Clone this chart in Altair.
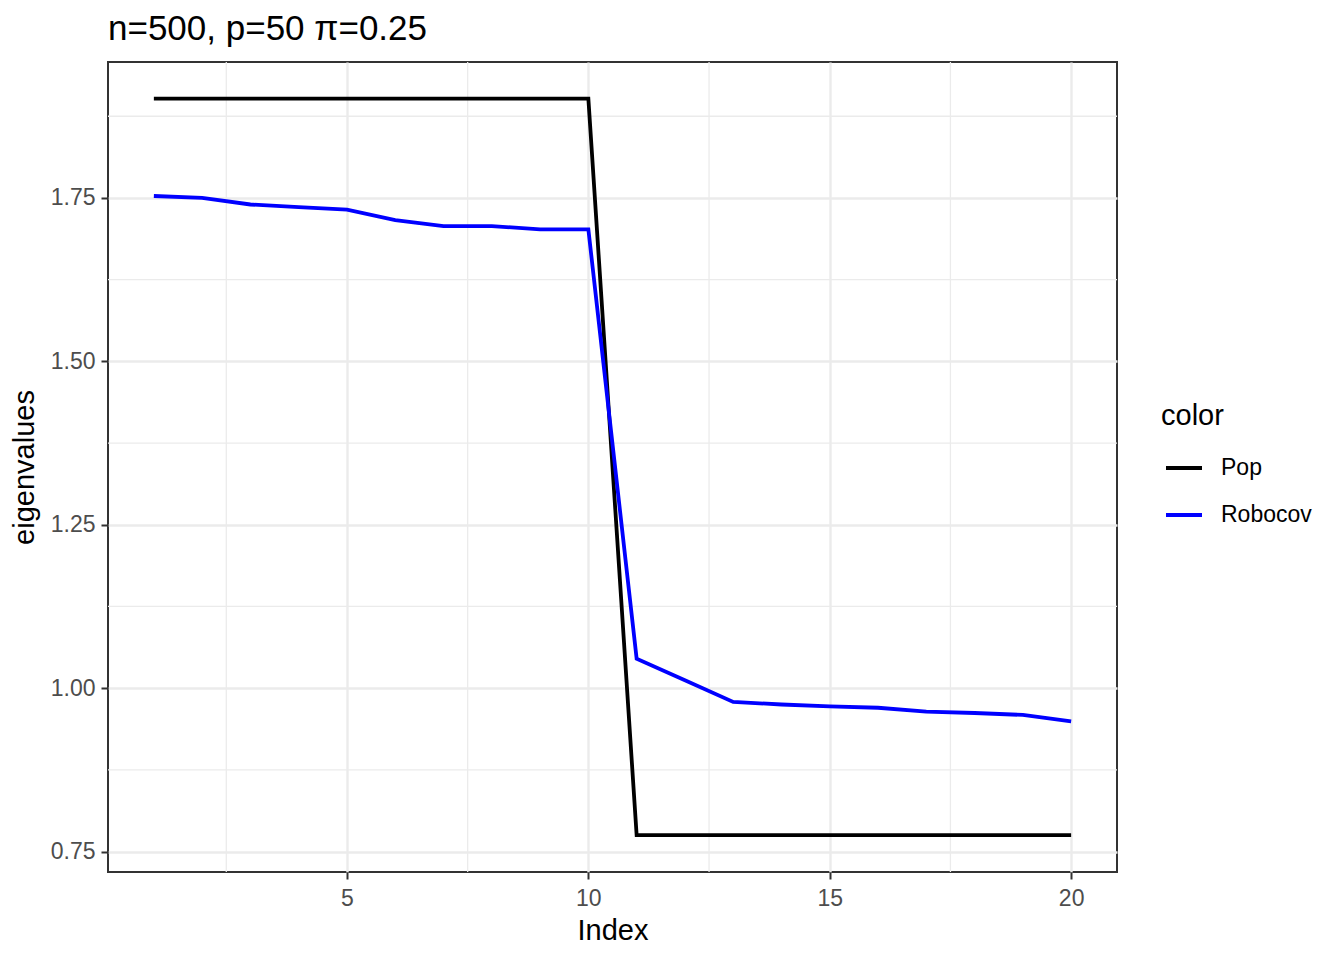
import altair as alt
import pandas as pd

index = list(range(1, 21))
pop = [1.902] * 10 + [0.775] * 10
robocov = [1.753, 1.750, 1.740, 1.736, 1.732, 1.716, 1.707, 1.707, 1.702, 1.702,
           1.045, 1.012, 0.979, 0.975, 0.972, 0.970, 0.964, 0.962, 0.959, 0.949]
series = ["Pop", "Robocov"]
colors = ["black", "blue"]
x_major = [5, 10, 15, 20]
x_minor = [2.5, 7.5, 12.5, 17.5]
y_major = [0.75, 1.00, 1.25, 1.50, 1.75]
y_minor = [0.875, 1.125, 1.375, 1.625, 1.875]

df = pd.DataFrame({
    "Index": index * 2,
    "eigenvalues": pop + robocov,
    "color": ["Pop"] * 20 + ["Robocov"] * 20,
})

xs = alt.Scale(domain=[0.05, 20.95], nice=False, zero=False)
ys = alt.Scale(domain=[0.7187, 1.958], nice=False, zero=False)

vminor = alt.Chart(pd.DataFrame({"v": x_minor})).mark_rule(
    color="#ebebeb", strokeWidth=1.3
).encode(x=alt.X("v:Q", scale=xs))
hminor = alt.Chart(pd.DataFrame({"v": y_minor})).mark_rule(
    color="#ebebeb", strokeWidth=1.3
).encode(y=alt.Y("v:Q", scale=ys))

lines = alt.Chart(df).mark_line(strokeWidth=3.8).encode(
    x=alt.X("Index:Q", scale=xs, title="Index",
            axis=alt.Axis(values=x_major, titlePadding=6)),
    y=alt.Y("eigenvalues:Q", scale=ys, title="eigenvalues",
            axis=alt.Axis(values=y_major, format=".2f", titlePadding=11)),
    color=alt.Color("color:N", scale=alt.Scale(domain=series, range=colors),
                    legend=alt.Legend(title="color", orient="none",
                                      legendX=1053, legendY=340)),
)

chart = alt.layer(vminor, hminor, lines).properties(
    width=1009, height=810,
    title=alt.Title("n=500, p=50 π=0.25", anchor="start", frame="group",
                    fontSize=35, font="Liberation Sans", fontWeight="normal",
                    color="black", offset=14),
    autosize=alt.AutoSizeParams(type="none"),
    padding={"left": 100, "top": 54, "right": 210, "bottom": 76},
).configure_view(
    stroke="#333333", strokeWidth=2
).configure_axis(
    domain=False,
    grid=True, gridColor="#ebebeb", gridWidth=2.4,
    ticks=True, tickColor="#333333", tickWidth=2, tickSize=7,
    labelFont="Liberation Sans", labelFontSize=23, labelColor="#4d4d4d",
    labelPadding=8,
    titleFont="Liberation Sans", titleFontSize=29, titleFontWeight="normal",
    titleColor="black",
).configure_axisY(labelPadding=6).configure_legend(
    padding=0,
    titleFont="Liberation Sans", titleFontSize=29, titleFontWeight="normal",
    titleColor="black", titlePadding=17,
    labelFont="Liberation Sans", labelFontSize=23, labelColor="black",
    labelOffset=17,
    symbolType="stroke", symbolSize=1296, symbolStrokeWidth=3.8,
    symbolOffset=3, rowPadding=15,
)

chart.save("out.html", embed_options={"renderer": "svg", "actions": False})
